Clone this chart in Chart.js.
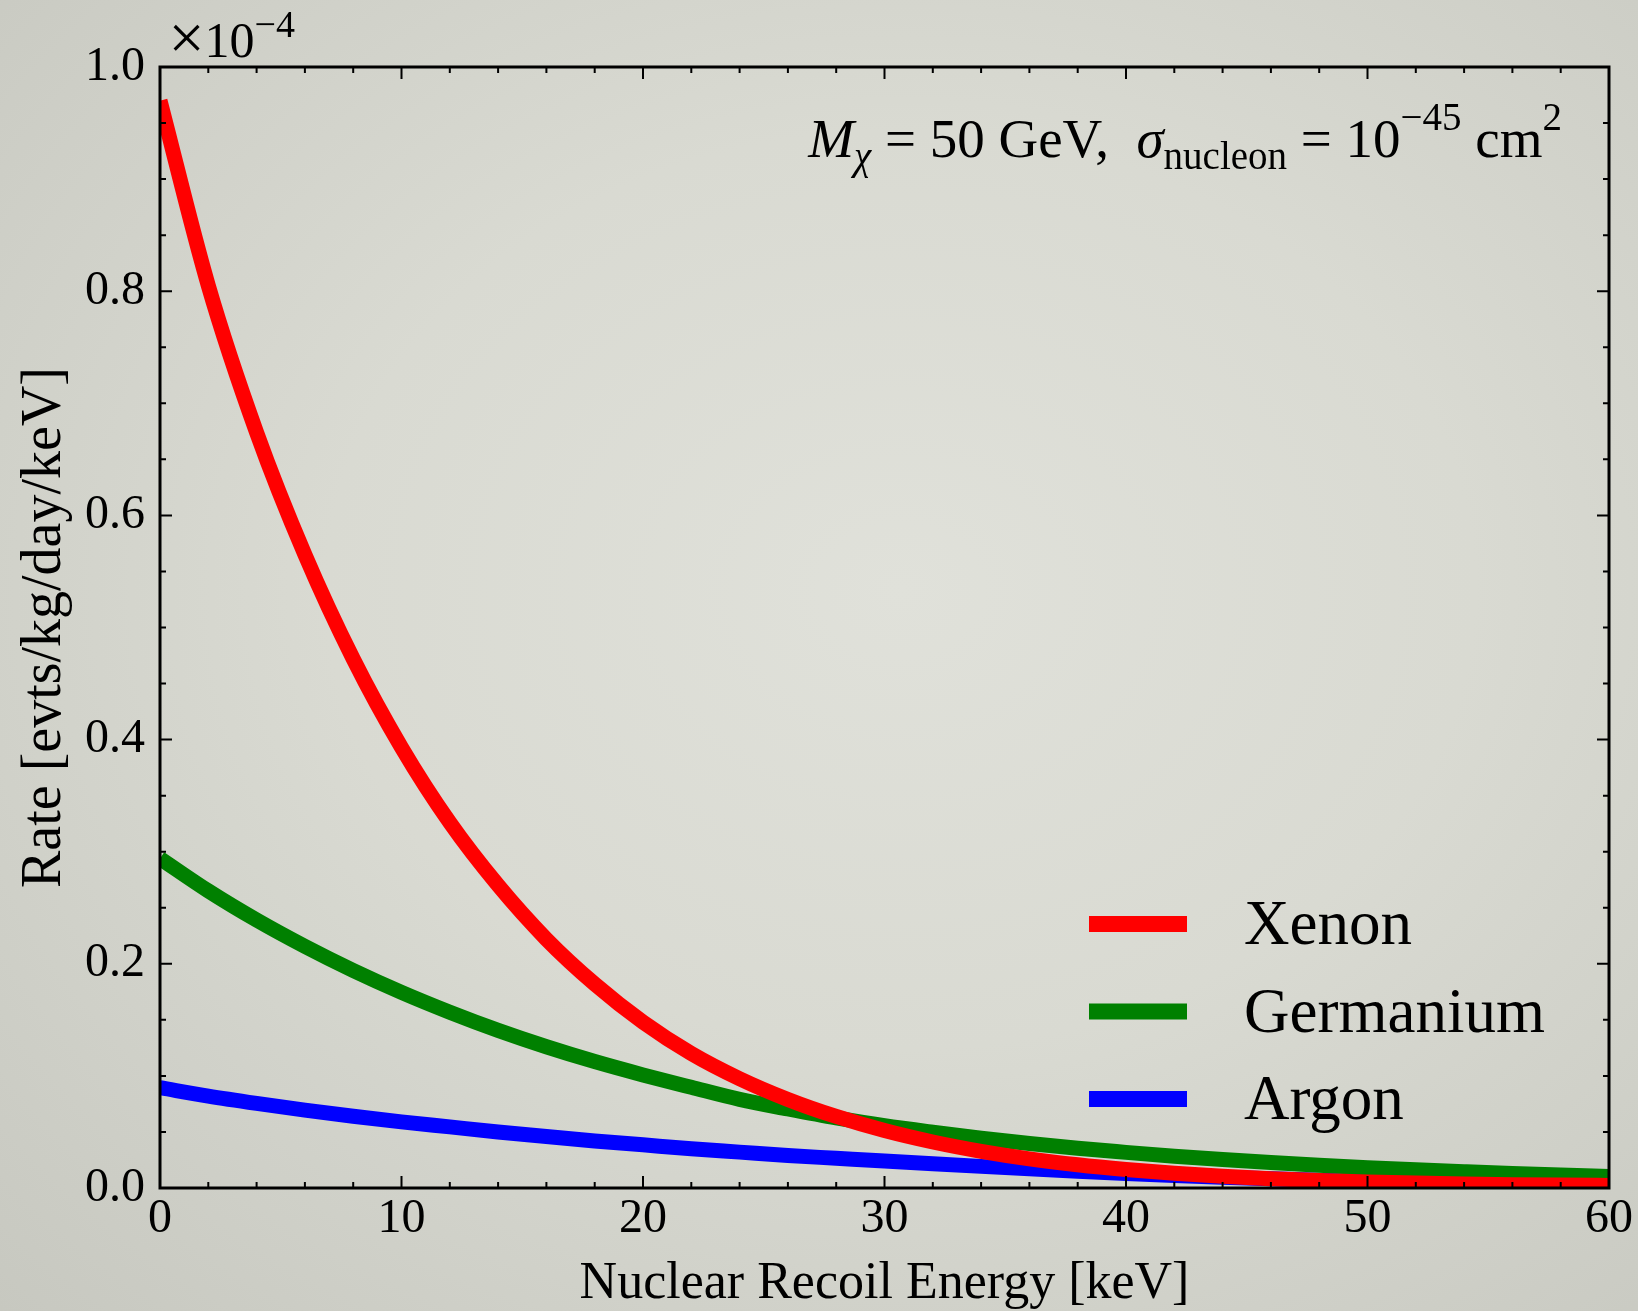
<!DOCTYPE html>
<html>
<head>
<meta charset="utf-8">
<title>WIMP recoil spectra</title>
<script src="https://cdn.jsdelivr.net/npm/chart.js@4.4.1/dist/chart.umd.min.js"></script>
<style>
  html, body { margin: 0; padding: 0; }
  body {
    width: 1638px; height: 1311px; overflow: hidden;
    background: radial-gradient(ellipse at 55% 45%, #e0e1da 0%, #d9dad2 45%, #c7c8c0 100%);
  }
  canvas { display: block; }
</style>
</head>
<body>
<canvas id="rateChart" width="1638" height="1311"></canvas>
<script>
// recoil energy in keV, rates in units of 1e-4 evts/kg/day/keV
const energy = [0, 2, 4, 6, 8, 10, 12, 14, 16, 18, 20, 22, 24, 26, 28, 30,
                32, 34, 36, 38, 40, 42, 44, 46, 48, 50, 52, 54, 56, 58, 60];
const xenonRate = [0.97, 0.805, 0.674, 0.565, 0.472, 0.393, 0.326, 0.27, 0.222, 0.182, 0.148,
                   0.12, 0.0975, 0.079, 0.0638, 0.0512, 0.041, 0.0327, 0.026, 0.0207, 0.0165,
                   0.0131, 0.0104, 0.0083, 0.0067, 0.0054, 0.0044, 0.0036, 0.003, 0.0026, 0.0023];
const germaniumRate = [0.294, 0.265, 0.239, 0.2155, 0.194, 0.1745, 0.1568, 0.1406, 0.126, 0.1128, 0.1009,
                       0.0898, 0.079, 0.0705, 0.0625, 0.0555, 0.0497, 0.0444, 0.0397, 0.0354, 0.0318,
                       0.0284, 0.0254, 0.0227, 0.0203, 0.0181, 0.0162, 0.0145, 0.0129, 0.0115, 0.0103];
const argonRate = [0.0895, 0.082, 0.0755, 0.0695, 0.064, 0.059, 0.0545, 0.05, 0.046, 0.042, 0.0385,
                   0.035, 0.032, 0.029, 0.0265, 0.024, 0.0216, 0.0193, 0.0171, 0.015, 0.013,
                   0.0112, 0.0096, 0.0082, 0.007, 0.0059, 0.0049, 0.0041, 0.0034, 0.0028, 0.0022];

const seriesNames = ['Xenon', 'Germanium', 'Argon'];
const seriesColors = ['#ff0000', '#008000', '#0000ff'];
const seriesRates = [xenonRate, germaniumRate, argonRate];

const xTicks = [0, 10, 20, 30, 40, 50, 60];
const yTicks = [0, 0.2, 0.4, 0.6, 0.8, 1.0];

const serif = "'Liberation Serif', 'DejaVu Serif', serif";

// draw a row of text pieces (for sub/superscripts), right aligned
function drawRuns(ctx, runs, xRight, baseline) {
    let total = 0;
    runs.forEach(r => { ctx.font = r.font; r.w = ctx.measureText(r.text).width; total += r.w; });
    let x = xRight - total;
    ctx.textAlign = 'left';
    ctx.textBaseline = 'alphabetic';
    runs.forEach(r => {
        ctx.font = r.font;
        ctx.fillText(r.text, x, baseline + (r.dy || 0));
        x += r.w;
    });
}

const decorations = {
    id: 'decorations',
    afterDatasetsDraw(chart) {
        const { ctx, chartArea: a, scales: { x, y } } = chart;
        ctx.save();
        ctx.strokeStyle = '#000';
        ctx.fillStyle = '#000';

        // inward ticks on all four sides
        ctx.lineWidth = 2;
        ctx.beginPath();
        for (let i = 0; i <= 30; i++) {
            const px = x.getPixelForValue(i * 2);
            const len = i % 5 === 0 ? 12 : 6;
            ctx.moveTo(px, a.bottom); ctx.lineTo(px, a.bottom - len);
            ctx.moveTo(px, a.top); ctx.lineTo(px, a.top + len);
        }
        for (let i = 0; i <= 20; i++) {
            const py = y.getPixelForValue(i * 0.05);
            const len = i % 4 === 0 ? 12 : 6;
            ctx.moveTo(a.left, py); ctx.lineTo(a.left + len, py);
            ctx.moveTo(a.right, py); ctx.lineTo(a.right - len, py);
        }
        ctx.stroke();

        // frame
        ctx.lineWidth = 3;
        ctx.strokeRect(a.left, a.top, a.right - a.left, a.bottom - a.top);

        // offset text above the y axis
        drawRuns(ctx, [
            { text: '\u00d7', font: '64px ' + serif, dy: 2 },
            { text: '10', font: '50px ' + serif },
            { text: '\u22124', font: '38px ' + serif, dy: -20 }
        ], a.left + 135, a.top - 10);

        // annotation
        drawRuns(ctx, [
            { text: 'M', font: 'italic 55px ' + serif },
            { text: '\u03c7', font: 'italic 39px ' + serif, dy: 12 },
            { text: ' = 50 GeV,  ', font: '55px ' + serif },
            { text: '\u03c3', font: 'italic 55px ' + serif },
            { text: 'nucleon', font: '39px ' + serif, dy: 12 },
            { text: ' = 10', font: '55px ' + serif },
            { text: '\u221245', font: '39px ' + serif, dy: -27 },
            { text: ' cm', font: '55px ' + serif },
            { text: '2', font: '39px ' + serif, dy: -27 }
        ], a.right - 47, a.top + 90);

        // legend
        const lx = a.right - 520;
        chart.data.datasets.forEach((ds, i) => {
            const ly = a.bottom - 264 + i * 87.5;
            ctx.fillStyle = ds.borderColor;
            ctx.fillRect(lx, ly - 8, 98, 16);
            ctx.fillStyle = '#000';
            ctx.font = '63px ' + serif;
            ctx.textAlign = 'left';
            ctx.textBaseline = 'alphabetic';
            ctx.fillText(ds.label, lx + 155, ly + 20);
        });
        ctx.restore();
    }
};

new Chart(document.getElementById('rateChart'), {
    type: 'line',
    data: {
        datasets: seriesNames.map((name, i) => ({
            label: name,
            data: energy.map((e, j) => ({ x: e, y: seriesRates[i][j] })),
            borderColor: seriesColors[i],
            backgroundColor: seriesColors[i],
            borderWidth: 15,
            pointRadius: 0,
            fill: false,
            cubicInterpolationMode: 'monotone',
            borderCapStyle: 'butt',
            borderJoinStyle: 'round',
            clip: 0
        }))
    },
    options: {
        responsive: false,
        animation: false,
        layout: { padding: { top: 67, right: 29, left: 0, bottom: 0 } },
        plugins: {
            legend: { display: false },
            tooltip: { enabled: false }
        },
        scales: {
            x: {
                type: 'linear',
                min: 0,
                max: 60,
                afterBuildTicks: s => { s.ticks = xTicks.map(v => ({ value: v })); },
                afterFit: s => { s.height = 123; },
                grid: { display: false, drawTicks: false },
                border: { display: false },
                ticks: {
                    color: '#000',
                    font: { family: serif, size: 48, lineHeight: 1.2 },
                    padding: 3,
                    maxRotation: 0,
                    callback: v => String(v)
                },
                title: {
                    display: true,
                    text: 'Nuclear Recoil Energy [keV]',
                    color: '#000',
                    font: { family: serif, size: 52, lineHeight: 1 },
                    padding: { top: 0, bottom: 1 }
                }
            },
            y: {
                type: 'linear',
                min: 0,
                max: 1.0,
                afterBuildTicks: s => { s.ticks = yTicks.map(v => ({ value: v })); },
                afterFit: s => { s.width = 160; },
                grid: { display: false, drawTicks: false },
                border: { display: false },
                ticks: {
                    color: '#000',
                    font: { family: serif, size: 48, lineHeight: 1.2 },
                    padding: 15,
                    callback: v => v.toFixed(1)
                },
                title: {
                    display: true,
                    text: 'Rate [evts/kg/day/keV]',
                    color: '#000',
                    font: { family: serif, size: 56, lineHeight: 1 },
                    padding: { top: 17, bottom: 0 }
                }
            }
        }
    },
    plugins: [decorations]
});
</script>
</body>
</html>
